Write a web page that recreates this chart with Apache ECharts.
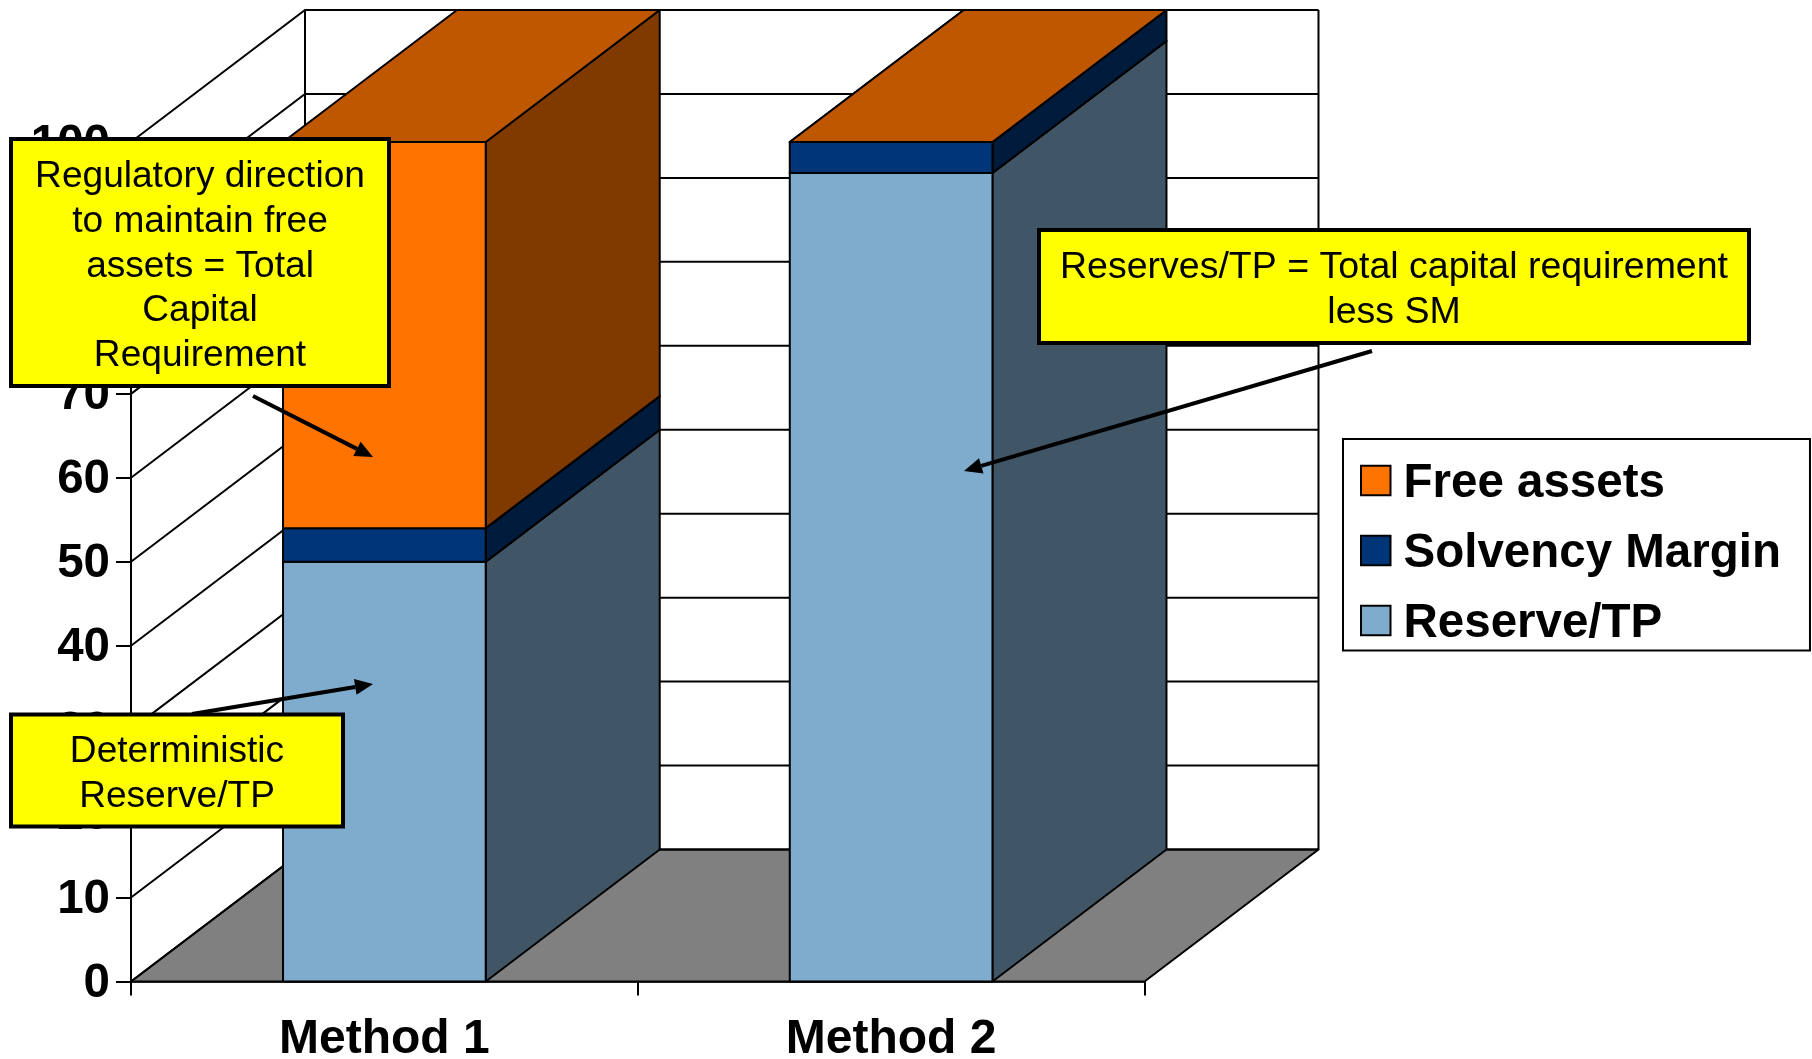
<!DOCTYPE html>
<html>
	<head>
		<meta charset="utf-8" />
		<title>Capital requirement</title>
		<style>
			html, body {
				width: 100%;
				height: 100%;
				margin: 0;
				padding: 0;
				background: #fff;
			}

			#main {
				width: 1812px;
				height: 1059px;
			}
		</style>
	</head>
	<body>
		<div id="main"></div>
		<script src="https://cdn.jsdelivr.net/npm/echarts@6/dist/echarts.min.js"></script>
		<script>
			var categories = ['Method 1', 'Method 2'];
			var reserveTP = [50, 96.3];
			var solvencyMargin = [4, 3.7];
			var freeAssets = [46, 0];
			var yTicks = [0, 10, 20, 30, 40, 50, 60, 70, 80, 90, 100];
			var legendOrder = ['Free assets', 'Solvency Margin', 'Reserve/TP'];

			var font = 'Liberation Sans';
			var depthX = 174, depthY = 132;
			var barRatio = 0.4;
			var edge = { stroke: '#000', lineWidth: 2 };

			// each stack piece is [category, from, to]
			function pieces(values, below) {
				return values.map(function(v, i) {
					var from = below.reduce(function(sum, arr) { return sum + arr[i]; }, 0);
					return [i, from, from + v];
				});
			}

			function poly(points, fill) {
				return {
					type: 'polygon',
					shape: { points: points },
					style: { fill: fill, stroke: edge.stroke, lineWidth: edge.lineWidth, lineJoin: 'round' }
				};
			}

			function barSeries(name, data, front, side, top) {
				return {
					name: name,
					type: 'custom',
					data: data,
					encode: { x: 0, y: [1, 2] },
					itemStyle: { color: front },
					z: 3,
					renderItem: function(params, api) {
						var band = api.size([1, 0])[0];
						var w = band * barRatio;
						var low = api.coord([api.value(0), api.value(1)]);
						var high = api.coord([api.value(0), api.value(2)]);
						var x0 = low[0] - w / 2, x1 = low[0] + w / 2;
						var yl = low[1], yh = high[1];
						return {
							type: 'group',
							children: [
								poly([[x1, yl], [x1 + depthX, yl - depthY], [x1 + depthX, yh - depthY], [x1, yh]], side),
								poly([[x0, yh], [x1, yh], [x1 + depthX, yh - depthY], [x0 + depthX, yh - depthY]], top),
								poly([[x0, yl], [x1, yl], [x1, yh], [x0, yh]], front)
							]
						};
					}
				};
			}

			// floor and the two walls behind the bars
			var wallSeries = {
				type: 'custom',
				silent: true,
				z: 1,
				data: yTicks.map(function(t) { return [0, t]; }),
				encode: { x: 0, y: 1 },
				renderItem: function(params, api) {
					var band = api.size([1, 0])[0];
					var p = api.coord([0, api.value(1)]);
					var left = p[0] - band / 2;
					var right = left + band * categories.length;
					var children = [
						{ type: 'polyline', shape: { points: [[left, p[1]], [left + depthX, p[1] - depthY], [right + depthX, p[1] - depthY]] }, style: { fill: 'none', stroke: edge.stroke, lineWidth: edge.lineWidth } }
					];
					if (api.value(1) == 0) {
						var top = api.coord([0, yTicks[yTicks.length - 1]])[1] - depthY;
						children.unshift(poly([[left, p[1]], [right, p[1]], [right + depthX, p[1] - depthY], [left + depthX, p[1] - depthY]], '#808080'));
						children.push({ type: 'line', shape: { x1: left + depthX, y1: p[1] - depthY, x2: left + depthX, y2: top }, style: edge });
						children.push({ type: 'line', shape: { x1: right + depthX, y1: p[1] - depthY, x2: right + depthX, y2: top }, style: edge });
					}
					return { type: 'group', children: children };
				}
			};

			function callout(x, y, w, h, text, size) {
				return {
					type: 'group',
					z: 100,
					children: [
						{ type: 'rect', z: 100, shape: { x: x, y: y, width: w, height: h }, style: { fill: '#ffff00', stroke: '#000', lineWidth: 4 } },
						{ type: 'text', z: 101, style: { x: x + w / 2, y: y + h / 2 + 4, text: text, align: 'center', verticalAlign: 'middle', font: size + 'px "' + font + '"', lineHeight: 44.7, fill: '#000' } }
					]
				};
			}

			function arrow(x1, y1, x2, y2) {
				var a = Math.atan2(y2 - y1, x2 - x1);
				var len = 18, half = 8;
				var bx = x2 - len * Math.cos(a), by = y2 - len * Math.sin(a);
				var nx = -Math.sin(a) * half, ny = Math.cos(a) * half;
				return {
					type: 'group',
					z: 90,
					children: [
						{ type: 'line', z: 90, shape: { x1: x1, y1: y1, x2: bx, y2: by }, style: { stroke: '#000', lineWidth: 4 } },
						{ type: 'polygon', z: 90, shape: { points: [[x2, y2], [bx + nx, by + ny], [bx - nx, by - ny]] }, style: { fill: '#000' } }
					]
				};
			}

			var labelFont = { color: '#000', fontFamily: font, fontWeight: 'bold', fontSize: 47.5 };

			var chart = echarts.init(document.getElementById('main'), null, { renderer: 'canvas' });
			chart.setOption({
				animation: false,
				backgroundColor: '#fff',
				grid: { left: 131, top: 142, width: 1013.5, height: 839.5, outerBoundsMode: 'none' },
				xAxis: {
					type: 'category',
					data: categories,
					axisLine: { lineStyle: { color: '#000', width: 2.5 } },
					axisTick: { show: true, length: 14, lineStyle: { color: '#000', width: 2 } },
					axisLabel: { color: '#000', fontFamily: font, fontWeight: 'bold', fontSize: 48, margin: 34 }
				},
				yAxis: {
					type: 'value',
					min: 0,
					max: 100,
					interval: 10,
					splitLine: { show: false },
					axisLine: { show: true, lineStyle: { color: '#000', width: 2 } },
					axisTick: { show: true, length: 15, lineStyle: { color: '#000', width: 2 } },
					axisLabel: {
						margin: 21,
						formatter: '{v|{value}}',
						rich: { v: Object.assign({ padding: [5, 0, 0, 0] }, labelFont) }
					}
				},
				legend: {
					left: 1343,
					top: 439,
					orient: 'vertical',
					data: legendOrder,
					icon: 'rect',
					itemWidth: 29.5,
					itemHeight: 29.5,
					itemGap: 22,
					padding: [21, 29, 2.5, 17],
					backgroundColor: '#fff',
					borderColor: '#000',
					borderWidth: 2,
					selectedMode: false,
					itemStyle: { borderColor: '#000', borderWidth: 2 },
					formatter: '{t|{name}}',
					textStyle: {
						rich: { t: Object.assign({ padding: [7, 0, 0, 8] }, labelFont) }
					}
				},
				series: [
					wallSeries,
					barSeries('Reserve/TP', pieces(reserveTP, []), '#7fabcc', '#405566', '#5f8099'),
					barSeries('Solvency Margin', pieces(solvencyMargin, [reserveTP]), '#003577', '#001b3c', '#002859'),
					barSeries('Free assets', pieces(freeAssets, [reserveTP, solvencyMargin]), '#ff7300', '#803a00', '#bf5600')
				],
				graphic: [
					arrow(253, 396, 373, 457),
					arrow(192, 714, 373, 684),
					arrow(1372, 351, 964, 471),
					callout(11, 139, 378, 247, 'Regulatory direction\nto maintain free\nassets = Total\nCapital\nRequirement', 37.1),
					callout(11, 714.5, 332, 112, 'Deterministic\nReserve/TP', 37.1),
					callout(1039, 230, 710, 113, 'Reserves/TP = Total capital requirement\nless SM', 37.5)
				]
			});
		</script>
	</body>
</html>
